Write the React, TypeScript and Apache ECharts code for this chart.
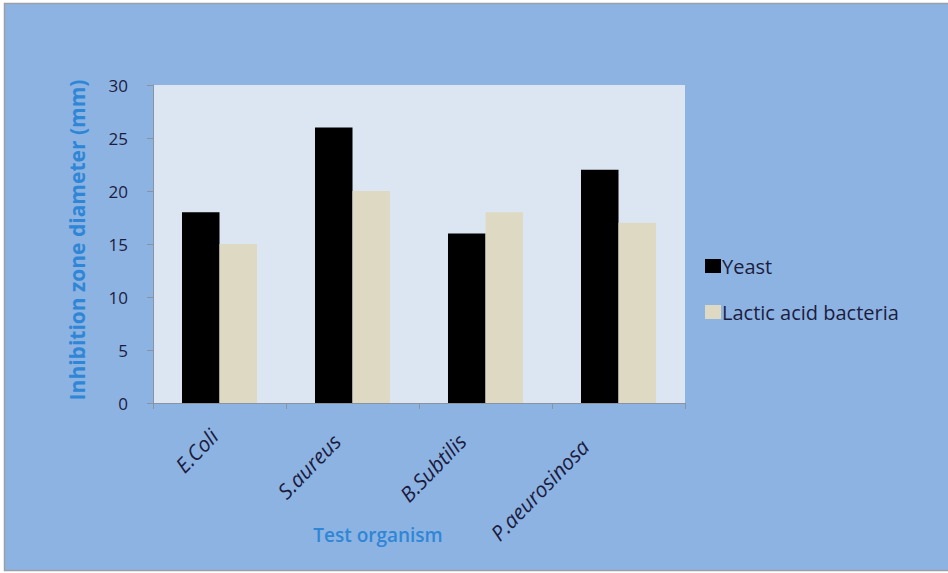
import React, { useEffect, useRef } from "react";
import * as echarts from "echarts";

const categories = ["E.Coli", "S.aureus", "B.Subtilis", "P.aeurosinosa"];
const yeast = [18, 26, 16, 22];
const lactic = [15, 20, 18, 17];
const seriesNames = ["Yeast", "Lactic acid bacteria"];
const yTitle = "Inhibition zone diameter (mm)";
const xTitle = "Test organism";

const FONT = "'Open Sans', 'Noto Sans', sans-serif";
const TXT = "#1c1c40";
const BLUE_T = "#2f86d6";

// per-label nudges (padding: [top, right, bottom, left]) to mimic the original's label placement
const labelPads = [
  [0, 4, 7, 0],
  [0, 15, 15, 0],
  [0, 20, 26, 0],
  [0, 31, 33, 0],
];

export default function App() {
  const ref = useRef<HTMLDivElement>(null);
  useEffect(() => {
    if (!ref.current) return;
    const chart = echarts.init(ref.current, undefined, { renderer: "svg" });
    const rich: Record<string, any> = {};
    labelPads.forEach((p, i) => {
      rich["l" + i] = {
        padding: p,
        color: TXT,
        fontFamily: FONT,
        fontStyle: "italic",
        fontSize: 21,
      };
    });
    chart.setOption({
      animation: false,
      backgroundColor: "#ffffff",
      graphic: [
        {
          type: "rect",
          z: -10,
          silent: true,
          shape: { x: 4.5, y: 3.5, width: 950, height: 567 },
          style: { fill: "#8db3e2", stroke: "#9aa0a8", lineWidth: 1.5 },
        },
        {
          type: "text",
          x: 77,
          y: 240,
          rotation: Math.PI / 2,
          style: {
            text: yTitle,
            fill: BLUE_T,
            font: `bold 21px ${FONT}`,
            align: "center",
            verticalAlign: "middle",
          },
        },
        {
          type: "text",
          x: 378,
          y: 535,
          style: {
            text: xTitle,
            fill: BLUE_T,
            font: `600 19px ${FONT}`,
            align: "center",
            verticalAlign: "middle",
          },
        },
      ],
      grid: {
        left: 153,
        top: 85,
        width: 532,
        height: 318,
        show: true,
        backgroundColor: "#dce6f2",
        borderWidth: 0,
      },
      legend: {
        orient: "vertical",
        left: 700,
        top: 251,
        itemWidth: 16,
        itemHeight: 14,
        itemGap: 26,
        icon: "rect",
        textStyle: { color: TXT, fontFamily: FONT, fontSize: 20, padding: [0, 0, 0, -4] },
        data: seriesNames,
      },
      xAxis: {
        type: "category",
        data: categories,
        axisLine: { show: true, lineStyle: { color: "#8a94a0", width: 1 } },
        axisTick: { show: true, length: 6, lineStyle: { color: "#8a94a0" } },
        axisLabel: {
          rotate: 46,
          margin: 29,
          color: TXT,
          fontFamily: FONT,
          fontStyle: "italic",
          fontSize: 21,
          formatter: (v: string, i: number) => `{l${i}|${v}}`,
          rich,
        },
      },
      yAxis: {
        type: "value",
        min: 0,
        max: 30,
        interval: 5,
        axisLine: { show: true, lineStyle: { color: "#8a94a0", width: 1 } },
        axisTick: { show: true, length: 6, lineStyle: { color: "#8a94a0" } },
        splitLine: { show: false },
        axisLabel: { margin: 25, color: TXT, fontFamily: FONT, fontSize: 17 },
      },
      series: [
        {
          name: seriesNames[0],
          type: "bar",
          data: yeast,
          barGap: "0%",
          barCategoryGap: "43.6%",
          itemStyle: { color: "#000000" },
        },
        {
          name: seriesNames[1],
          type: "bar",
          data: lactic,
          barGap: "0%",
          barCategoryGap: "43.6%",
          itemStyle: { color: "#ddd9c3" },
        },
      ],
    });
    return () => chart.dispose();
  }, []);
  return (
    <div
      ref={ref}
      style={{ position: "fixed", left: 0, top: 0, width: 948, height: 573 }}
    />
  );
}
